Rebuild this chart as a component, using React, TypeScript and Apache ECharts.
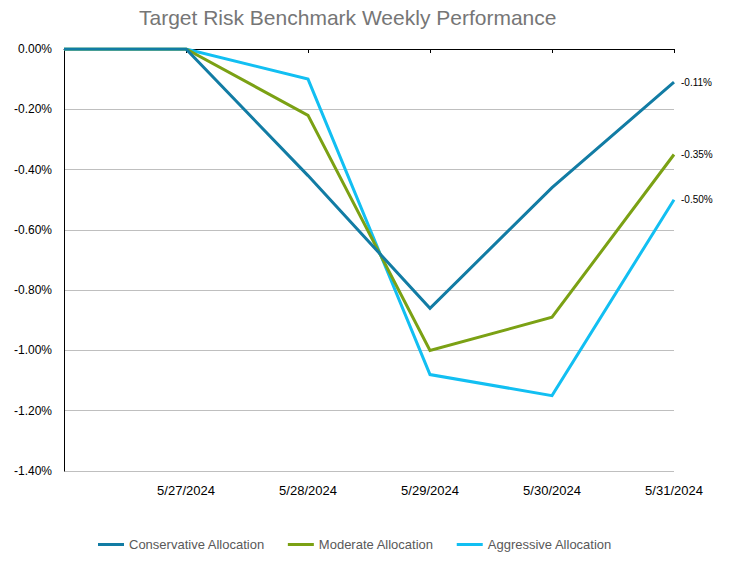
import React, { useEffect, useRef } from "react";
import * as echarts from "echarts";

const categories = ["", "5/27/2024", "5/28/2024", "5/29/2024", "5/30/2024", "5/31/2024"];
const conservative = [0, 0, -0.42, -0.86, -0.46, -0.11];
const moderate = [0, 0, -0.22, -1.0, -0.89, -0.35];
const aggressive = [0, 0, -0.1, -1.08, -1.15, -0.5];
const seriesNames = ["Conservative Allocation", "Moderate Allocation", "Aggressive Allocation"];
const colors = ["#127CA4", "#7BA114", "#12BFF2"];
const title = "Target Risk Benchmark Weekly Performance";

const FONT = '"Liberation Sans", Arial, sans-serif';

export default function App() {
  const ref = useRef<HTMLDivElement>(null);
  useEffect(() => {
    if (!ref.current) return;
    const chart = echarts.init(ref.current, null, { renderer: "svg" });
    const values = [conservative, moderate, aggressive];
    chart.setOption({
      animation: false,
      textStyle: { fontFamily: FONT },
      title: {
        text: title,
        left: 134,
        top: 2,
        textStyle: { fontFamily: FONT, fontSize: 21, fontWeight: "normal", color: "#767676" },
      },
      legend: {
        data: seriesNames,
        icon: "rect",
        left: 98,
        top: 538,
        padding: 0,
        itemWidth: 26,
        itemHeight: 3,
        itemGap: 23,
        textStyle: { fontFamily: FONT, fontSize: 13, color: "#595959" },
      },
      grid: { left: 64, right: 59, top: 49, bottom: 92, containLabel: false },
      xAxis: [
        {
          type: "category",
          data: categories,
          boundaryGap: false,
          position: "bottom",
          axisLine: { show: false },
          axisTick: { show: false },
          splitLine: { show: false },
          axisLabel: { show: true, interval: 0, margin: 13, fontSize: 13, color: "#000", fontFamily: FONT },
        },
        {
          type: "category",
          data: categories,
          boundaryGap: false,
          position: "top",
          axisLine: { show: true, lineStyle: { color: "#000", width: 1 } },
          axisTick: { show: true, inside: true, length: 4, interval: 0, lineStyle: { color: "#000" } },
          axisLabel: { show: false },
          splitLine: { show: false },
        },
      ],
      yAxis: {
        type: "value",
        min: -1.4,
        max: 0,
        interval: 0.2,
        axisLine: { show: true, lineStyle: { color: "#000", width: 1 } },
        axisTick: { show: false },
        splitLine: { show: true, lineStyle: { color: "#BFBFBF", width: 1 } },
        axisLabel: {
          fontSize: 12,
          color: "#000",
          margin: 12,
          fontFamily: FONT,
          formatter: (v: number) => v.toFixed(2) + "%",
        },
      },
      series: seriesNames.map((name, i) => ({
        name,
        type: "line",
        xAxisIndex: 0,
        data: values[i],
        symbol: "none",
        color: colors[i],
        itemStyle: { color: colors[i] },
        lineStyle: { width: 3, color: colors[i], join: "miter" },
        endLabel: {
          show: true,
          distance: 7,
          fontSize: 10,
          color: "#000",
          fontFamily: FONT,
          formatter: (p: any) => Number(p.value).toFixed(2) + "%",
        },
        z: 3 - i + 2,
      })),
    });
    return () => chart.dispose();
  }, []);
  return (
    <div
      ref={ref}
      style={{ position: "fixed", left: 0, top: 0, width: 733, height: 563, background: "#fff" }}
    />
  );
}
